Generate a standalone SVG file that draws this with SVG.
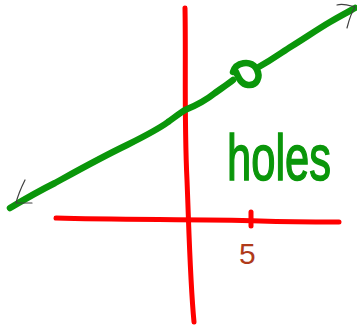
<svg xmlns="http://www.w3.org/2000/svg" width="357" height="327" viewBox="0 0 357 327">
<style>
.axis{fill:none;stroke:#ff0000;stroke-width:5;stroke-linecap:round;stroke-linejoin:round}
.curve{fill:none;stroke:#0a960a;stroke-width:6.5;stroke-linecap:round;stroke-linejoin:round}
.head{fill:none;stroke:#404040;stroke-width:1.2;stroke-linecap:round;stroke-linejoin:round}
.lbl{font-family:"Liberation Sans",Arial,sans-serif}
</style>
<rect width="357" height="327" fill="#ffffff"/>
<g id="axes">
<path class="axis" d="M185,8 C186,60 184,120 187,180 C189,230 190,280 194,322"/>
<path class="axis" d="M56,218 C120,220 200,219 260,221 C290,222 320,222 339,222"/>
<path class="axis" d="M251,212 L251,226"/>
</g>
<g id="connectors">
<path class="curve" d="M10,208 C30,196 45,188 55,183 C75,172 100,158 127,145 C145,136 160,128 168,122 C175,117 180,113 185,110 C195,106 205,101 215,93 C222,88 228,84 233,80"/>
<path class="curve" d="M233,72 C236,62 250,60 256,68 C262,78 256,86 248,85 C240,84 238,76 236,72"/>
<path class="curve" d="M257,68 C275,58 282,52 292,46 C305,38 318,29 330,22 C340,16 348,12 355,8"/>
<path class="head" d="M25,180 C21,188 18,195 16,203 L32,203"/>
<path class="head" d="M337,5 C343,3 348,5 355,7 C351,13 349,20 347,28"/>
</g>
<g id="label-holes">
<text class="lbl" transform="translate(227,180) scale(0.68,1)" x="0" y="0" font-size="64" fill="#0a960a" stroke="#0a960a" stroke-width="1.5">holes</text>
</g>
<g id="label-5">
<text class="lbl" x="239" y="264" font-size="30" fill="#b03a1a">5</text>
</g>
</svg>
